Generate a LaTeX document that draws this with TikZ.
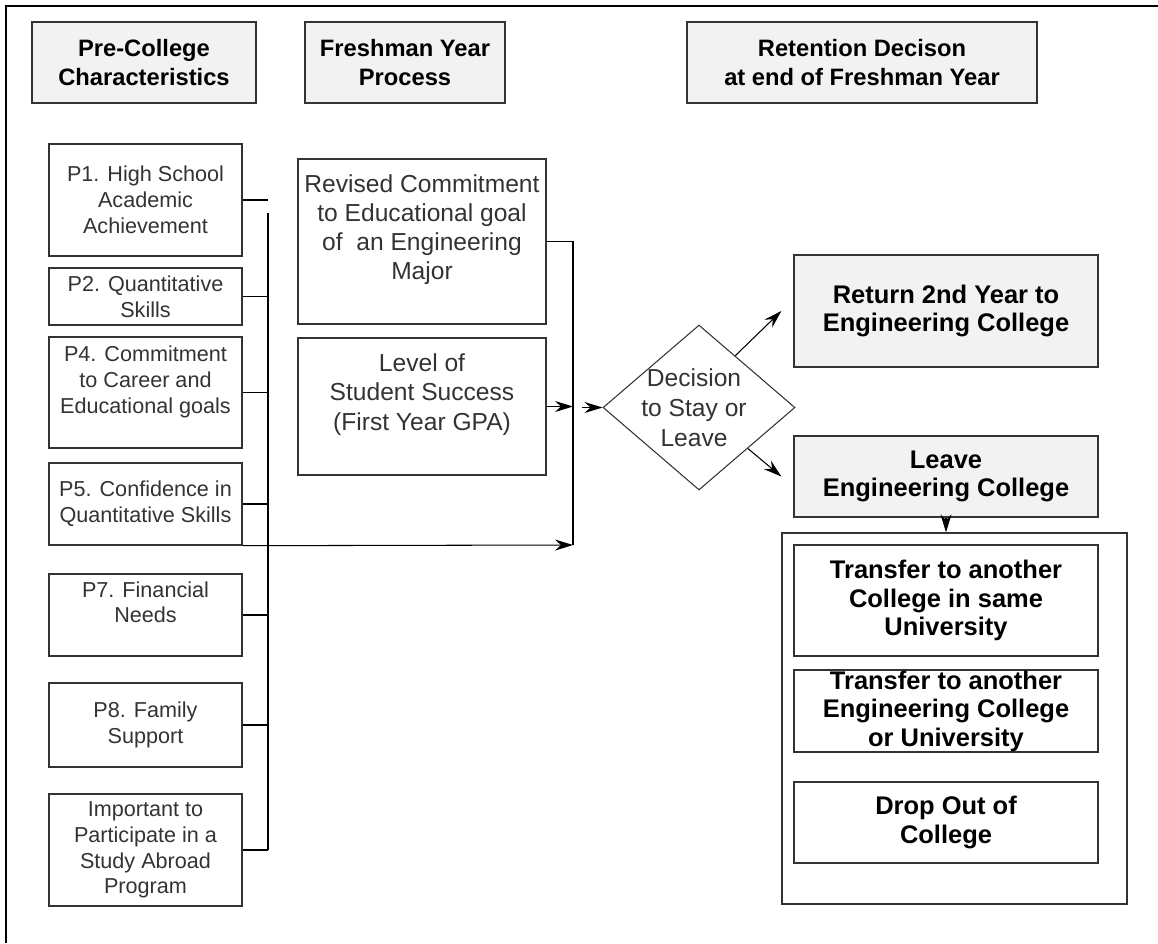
\documentclass[tikz,border=0pt]{standalone}
\usepackage{fontspec}
\setmainfont{Liberation Sans}
\usetikzlibrary{shapes.geometric, arrows.meta, positioning}

\begin{document}
\begin{tikzpicture}[
  x=0.02cm, y=-0.02cm,
  box/.style={draw=black!80, line width=0.8pt, align=center, inner sep=2pt, text=black!80},
  hdr/.style={box, fill=black!5, text=black, minimum height=1.62cm, font=\fontsize{13.5}{16.4}\selectfont\bfseries},
  pbox/.style={box, minimum width=3.86cm, font=\fontsize{12.3}{14.7}\selectfont},
  mbox/.style={box, minimum width=4.96cm, font=\fontsize{14}{16.6}\selectfont},
  res/.style={box, minimum width=6.08cm, text=black, font=\fontsize{14.5}{16.2}\selectfont\bfseries},
  resg/.style={res, fill=black!5},
  link/.style={line width=0.6pt},
  bus/.style={line width=1.6pt},
  ar/.style={link, -{Stealth[length=3.6mm, width=2.2mm, inset=1.2mm]}}
]
\useasboundingbox (0,0) rectangle (1158,943);
\draw[line width=1.4pt] (6,943) -- (6,6) -- (1158,6);

% column headings
\node[hdr, minimum width=4.48cm] (hpre) at (144,62.5) {Pre-College\\Characteristics};
\node[hdr, minimum width=4cm] (hfresh) at (405,62.5) {Freshman Year\\Process};
\node[hdr, minimum width=7cm] (hret) at (862,62.5) {Retention Decison\\at end of Freshman Year};

% pre-college characteristics
\node[pbox, minimum height=2.24cm] (p1) at (145.5,200) {P1. High School\\Academic\\Achievement};
\node[pbox, minimum height=1.14cm] (p2) at (145.5,296.5) {P2. Quantitative\\Skills};
\node[pbox, minimum height=2.22cm] (p4) at (145.5,392.5) {P4. Commitment\\to Career and\\Educational goals\\~};
\node[pbox, minimum height=1.64cm] (p5) at (145.5,504) {P5. Confidence in\\Quantitative Skills};
\node[pbox, minimum height=1.64cm] (p7) at (145.5,615) {P7. Financial\\Needs\\~};
\node[pbox, minimum height=1.68cm] (p8) at (145.5,725) {P8. Family\\Support};
\node[pbox, minimum height=2.24cm] (p9) at (145.5,850) {Important to\\Participate in a\\Study Abroad\\Program};

% freshman year process
\node[mbox, minimum height=3.3cm] (rev) at (422,241.5) {Revised Commitment\\to Educational goal\\of~ an Engineering\\Major\\~};
\node[mbox, minimum height=2.74cm] (lvl) at (422,406.5) {Level of\\Student Success\\(First Year GPA)\\~};

% decision
\node[diamond, draw=black!80, line width=0.6pt, minimum width=3.84cm, minimum height=3.3cm, inner sep=0pt,
      label={[align=center, text=black!80, font=\fontsize{14}{17}\selectfont, xshift=-0.1cm]center:Decision\\to Stay or\\Leave}] (dec) at (699,407.5) {};

% outcomes
\node[resg, minimum height=2.24cm] (ret) at (946,311) {Return 2nd Year to\\Engineering College};
\node[resg, minimum height=1.62cm] (leave) at (946,476.5) {Leave\\Engineering College};
\node[draw=black!80, line width=0.8pt, minimum width=6.9cm, minimum height=7.42cm] (grp) at (954.5,718.5) {};
\node[res, minimum height=2.22cm] (tr1) at (946,600.5) {Transfer to another\\College in same\\University};
\node[res, minimum height=1.64cm, inner ysep=0pt] (tr2) at (946,711) {Transfer to another\\Engineering College\\or University};
\node[res, minimum height=1.62cm] (drop) at (946,822.5) {Drop Out of\\College};

% connectors
\coordinate (bustop) at (268,213);
\coordinate (busbot) at (268,850);
\coordinate (merge) at (573,545);
\coordinate (gate) at (582,407.5);

\draw[bus] (bustop) -- (busbot);
\draw[link] (p1.east) -- (p1.east -| bustop);
\draw[link] (p2.east) -- (p2.east -| bustop);
\draw[link] (p4.east) -- (p4.east -| bustop);
\draw[link] (p5.east) -- (p5.east -| bustop);
\draw[link] (p7.east) -- (p7.east -| bustop);
\draw[link] (p8.east) -- (p8.east -| bustop);
\draw[bus] (p9.east) -- (busbot);

\draw[link] (rev.east) -| (merge);
\draw[ar] (p5.south east) -- (merge);
\draw[ar] (lvl.east) -- (lvl.east -| merge);
\draw[ar] (gate) -- (dec.west);

\draw[ar] (dec.55) -- ([xshift=-0.24cm]ret.west);
\draw[ar] (dec.-40) -- ([xshift=-0.24cm]leave.west);
\draw[ar] (leave.south) -- (leave.south |- grp.north);
\end{tikzpicture}
\end{document}
